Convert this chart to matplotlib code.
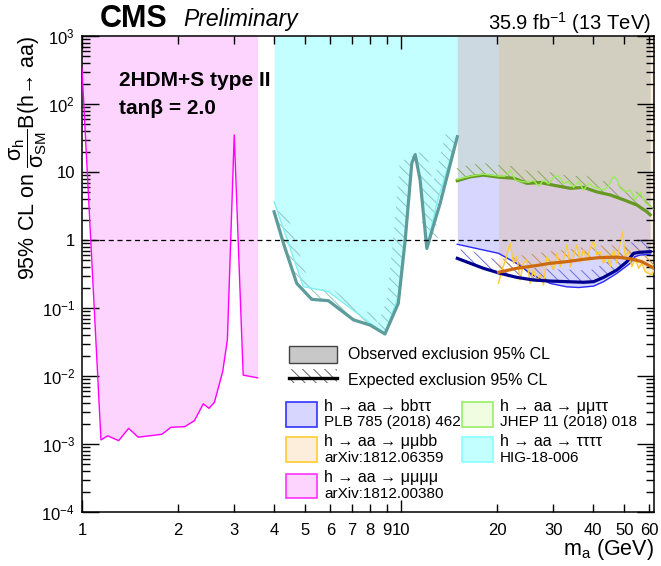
import numpy as np
import matplotlib
matplotlib.use('Agg')
import matplotlib.pyplot as plt
from matplotlib.patches import Rectangle, Polygon
from matplotlib.lines import Line2D
from matplotlib.ticker import FixedLocator, FuncFormatter, LogLocator, NullFormatter

plt.rcParams['font.family'] = ['Liberation Sans', 'DejaVu Sans']
plt.rcParams['mathtext.fontset'] = 'custom'
plt.rcParams['mathtext.rm'] = 'Liberation Sans'
plt.rcParams['mathtext.it'] = 'Liberation Sans:italic'
plt.rcParams['mathtext.bf'] = 'Liberation Sans:bold'
plt.rcParams['hatch.linewidth'] = 0.7

# h -> aa -> mumumumu (observed)
m4_x = [1.0, 1.147, 1.204, 1.303, 1.40, 1.50, 1.78, 1.90, 2.10, 2.25, 2.40, 2.50, 2.60,
        2.76, 2.855, 3.00, 3.20, 3.55]
m4_y = [335, 1.15e-3, 1.32e-3, 1.12e-3, 1.7e-3, 1.26e-3, 1.39e-3, 1.76e-3, 1.8e-3, 2.2e-3,
        3.9e-3, 3.35e-3, 4.1e-3, 1.16e-2, 3.4e-2, 35, 1.03e-2, 9.4e-3]

# h -> aa -> tautautautau
t4_obs_x = [4.0, 4.94, 5.92, 8.0, 8.9, 9.8, 10.3, 10.8, 11.07, 11.47, 12.04, 12.94, 15.0]
t4_obs_y = [3.66, 0.206, 0.174, 0.06, 0.0415, 0.15, 1.2, 14, 18.8, 7.6, 0.75, 3.5, 33]
t4_exp_x = [4.0, 4.28, 4.71, 5.25, 5.92, 7.09, 8.0, 8.9, 9.8, 10.3, 10.8, 11.07, 11.47,
            12.04, 12.6, 13.26, 15.0]
t4_exp_y = [2.6, 0.89, 0.23, 0.134, 0.128, 0.067, 0.056, 0.0415, 0.117, 1.0, 13.4, 18,
            7.6, 0.75, 1.57, 3.5, 33]

# h -> aa -> bbtautau
bb_obs_x = [15.0, 20.2, 23.05, 26.0, 29.3, 33.0, 36.0, 40.1, 43.1, 47.45, 52.2, 54.1, 56.1, 60.3]
bb_obs_y = [0.865, 0.637, 0.45, 0.3, 0.23, 0.205, 0.2, 0.21, 0.244, 0.324, 0.454, 0.57, 0.6, 0.616]
bb_exp_x = [15.0, 18.1, 20.4, 23.05, 26.0, 29.3, 33.0, 37.3, 40.1, 43.1, 47.45, 51.0, 53.5,
            56.1, 60.3]
bb_exp_y = [0.537, 0.384, 0.324, 0.282, 0.258, 0.249, 0.244, 0.239, 0.244, 0.282, 0.362,
            0.48, 0.637, 0.66, 0.673]

# h -> aa -> mumutautau
mt_obs_x = [15.0, 16.5, 18.1, 20.2, 21.2, 22.0, 22.8, 23.9, 25.1, 26.0, 27.0, 27.9, 29.0,
            30.4, 31.1, 32.3, 33.5, 34.7, 36.0, 37.3, 38.7, 40.1, 41.6, 43.1, 44.7, 46.3,
            47.5, 48.6, 50.4, 52.2, 54.1, 56.1, 58.2, 60.3]
mt_obs_y = [7.8, 8.7, 9.3, 8.7, 8.7, 10.5, 7.6, 7.2, 7.05, 7.5, 6.2, 7.6, 6.7,
            8.7, 8.7, 6.8, 7.2, 5.95, 7.2, 5.4, 6.8, 5.95, 5.75, 5.4, 6.2, 8.7,
            7.6, 5.75, 5.1, 5.4, 3.9, 5.0, 3.5, 3.1]
mt_exp_x = [15.0, 16.5, 18.1, 20.2, 22.5, 24.8, 27.3, 30.0, 33.9, 37.3, 41.0, 45.2, 49.8,
            54.8, 58.9, 60.3]
mt_exp_y = [7.45, 8.5, 9.0, 8.4, 8.1, 6.8, 7.0, 6.4, 5.75, 5.95, 5.1, 4.6, 3.9, 3.27, 2.6, 2.35]

# h -> aa -> mumubb
mb_obs_x = [20.19, 20.68, 21.18, 21.96, 22.50, 23.05, 23.60, 24.18, 24.77, 25.37, 25.99,
            26.62, 27.28, 27.94, 28.62, 29.32, 30.03, 30.76, 31.51, 32.28, 33.06, 33.87,
            34.69, 35.54, 36.40, 37.29, 38.19, 39.13, 40.08, 41.06, 42.06, 43.08, 44.13,
            45.21, 46.31, 47.44, 48.59, 49.41, 50.37, 51.60, 52.86, 54.15, 55.46, 56.81,
            58.20, 59.62, 61.07, 62.0]
mb_obs_y = [0.23, 0.362, 0.48, 0.893, 0.454, 0.568, 0.258, 0.454, 0.508, 0.23, 0.362,
            0.244, 0.306, 0.218, 0.568, 0.454, 0.362, 0.636, 0.405, 0.508, 0.844, 0.405,
            0.568, 0.844, 0.48, 0.713, 0.508, 0.754, 0.945, 0.601, 0.673, 0.454, 0.601,
            0.405, 0.713, 0.454, 0.893, 1.33, 0.568, 0.673, 0.405, 0.537, 0.383, 0.454,
            0.342, 0.323, 0.306, 0.362]
mb_exp_x = [20.2, 23.05, 26.0, 29.3, 33.0, 37.3, 41.6, 47.45, 52.2, 56.8, 62.0]
mb_exp_y = [0.335, 0.384, 0.415, 0.454, 0.48, 0.52, 0.55, 0.56, 0.53, 0.48, 0.384]

legend_top = ['Observed exclusion 95% CL', 'Expected exclusion 95% CL']
legend_l1 = ['h → aa → bbττ', 'h → aa → μμbb', 'h → aa → μμμμ', 'h → aa → μμττ',
             'h → aa → ττττ']
legend_l2 = ['PLB 785 (2018) 462', 'arXiv:1812.06359', 'arXiv:1812.00380',
             'JHEP 11 (2018) 018', 'HIG-18-006']

YTOP = 1e3

c_blue = (0.0, 0.0, 1.0, 0.16)
c_green = (0.55, 0.94, 0.0, 0.12)
c_orange = (0.97, 0.55, 0.0, 0.14)
c_mag = (0.94, 0.0, 0.96, 0.17)
c_cyan = (0.0, 1.0, 1.0, 0.23)

fig = plt.figure(figsize=(6.61, 5.66), dpi=100)
ax = fig.add_axes([0.124, 0.0954, 0.8654, 0.841])
ax.set_xscale('log')
ax.set_yscale('log')
ax.set_xlim(1, 62)
ax.set_ylim(1e-4, 1e3)


def hatch_band(x, y, color, width=12):
    # hatched strip on the excluded (upper) side of an expected curve
    pts = ax.transData.transform(np.column_stack([x, y]))
    d = np.gradient(pts, axis=0)
    n = np.column_stack([-d[:, 1], d[:, 0]])
    n /= np.hypot(n[:, 0], n[:, 1])[:, None]
    off = pts + width * n
    poly = ax.transData.inverted().transform(np.vstack([pts, off[::-1]]))
    ax.add_patch(Polygon(poly, closed=True, facecolor='none', edgecolor=color,
                         lw=0, hatch='\\\\\\', zorder=3))


# excluded regions
ax.fill_between(m4_x, m4_y, YTOP, color=c_mag, lw=0, zorder=1)
ax.fill_between(t4_obs_x, t4_obs_y, YTOP, color=c_cyan, lw=0, zorder=1)
ax.fill_between(bb_obs_x, bb_obs_y, YTOP, color=c_blue, lw=0, zorder=1)
ax.fill_between(mt_obs_x, mt_obs_y, YTOP, color=c_green, lw=0, zorder=1)
ax.fill_between(mb_obs_x, mb_obs_y, YTOP, color=c_orange, lw=0, zorder=1)

hatch_band(t4_exp_x, t4_exp_y, '#8cc4c4')
hatch_band(bb_exp_x, bb_exp_y, '#7070d8')
hatch_band(mt_exp_x, mt_exp_y, '#8aa860')
hatch_band(mb_exp_x, mb_exp_y, '#c8905a')

ax.plot(m4_x, m4_y, color='#ff00ff', lw=1.0, zorder=4)
ax.plot(t4_obs_x, t4_obs_y, color='#80f0f0', lw=1.0, zorder=4)
ax.plot(t4_exp_x, t4_exp_y, color='#5e9c9c', lw=2.3, zorder=5)
ax.plot(bb_obs_x, bb_obs_y, color='#2a2aff', lw=1.0, zorder=4)
ax.plot(bb_exp_x, bb_exp_y, color='#00008f', lw=2.3, zorder=5)
ax.plot(mt_obs_x, mt_obs_y, color='#99ee55', lw=1.0, zorder=6)
ax.plot(mt_exp_x, mt_exp_y, color='#669922', lw=2.3, zorder=5)
ax.plot(mb_obs_x, mb_obs_y, color='#ffcc33', lw=1.0, zorder=4)
ax.plot(mb_exp_x, mb_exp_y, color='#cc6a10', lw=2.3, zorder=5)

ax.axhline(1, color='k', lw=0.9, ls=(0, (4, 3)), zorder=6)

# axes styling
for s in ax.spines.values():
    s.set_linewidth(1.1)
ax.xaxis.set_major_locator(FixedLocator([1, 10]))
ax.xaxis.set_minor_locator(FixedLocator([2, 3, 4, 5, 6, 7, 8, 9, 20, 30, 40, 50, 60]))
xfmt = FuncFormatter(lambda v, p: '%g' % v)
ax.xaxis.set_major_formatter(xfmt)
ax.xaxis.set_minor_formatter(xfmt)


def yfmt(v, p):
    e = int(round(np.log10(v)))
    if e == 0:
        return '1'
    if e == 1:
        return '10'
    return '$10^{%d}$' % e


ax.yaxis.set_major_locator(FixedLocator([1e-4, 1e-3, 1e-2, 1e-1, 1, 10, 1e2, 1e3]))
ax.yaxis.set_major_formatter(FuncFormatter(yfmt))
ax.yaxis.set_minor_locator(LogLocator(base=10, subs=np.arange(2, 10)))
ax.yaxis.set_minor_formatter(NullFormatter())

ax.tick_params(which='both', direction='in', top=True, right=True, labelsize=12, width=1)
ax.tick_params(axis='y', which='major', length=12, pad=5)
ax.tick_params(axis='y', which='minor', length=6)
ax.tick_params(axis='x', which='major', length=9, pad=8)
ax.tick_params(axis='x', which='minor', length=6, pad=8)

ax.set_xlabel(r'm$_{\mathrm{a}}$ (GeV)', fontsize=15.5, loc='right')
ax.xaxis.set_label_coords(1.0, -0.052)
ax.set_ylabel('95% CL on ' + r'$\dfrac{\mathrm{σ}_{\mathrm{h}}}{\mathrm{σ}_{\mathrm{SM}}}$'
              + 'B(h→ aa)', fontsize=15.5, loc='top')
ax.yaxis.set_label_coords(-0.058, 1.0)

# header texts
fig.text(100 / 661, 1 - 27 / 566, 'CMS', fontsize=22, fontweight='bold', va='baseline')
fig.text(183 / 661, 1 - 26 / 566, 'Preliminary', fontsize=16.5, style='italic', va='baseline')
fig.text(651 / 661, 1 - 30 / 566, r'35.9 fb$^{-1}$ (13 TeV)', fontsize=14.5, ha='right',
         va='baseline')
ax.text(0.064, 0.894, '2HDM+S type II', transform=ax.transAxes, fontsize=15,
        fontweight='bold', va='baseline')
ax.text(0.064, 0.837, 'tanβ = 2.0', transform=ax.transAxes, fontsize=15,
        fontweight='bold', va='baseline')

# legend, drawn by hand in axes fraction
axf = ax.transAxes
ax.add_patch(Rectangle((0.3628, 0.314), 0.0822, 0.0337, transform=axf,
                       facecolor='#c8c8c8', edgecolor='#444444', lw=1.0, zorder=7))
ax.text(0.4645, 0.331, legend_top[0], transform=axf, fontsize=11.5, va='center', zorder=7)
ax.add_patch(Rectangle((0.3628, 0.271), 0.0822, 0.029, transform=axf, facecolor='none',
                       edgecolor='#666666', lw=0, hatch='\\\\\\', zorder=7))
ax.add_line(Line2D([0.3628, 0.445], [0.2815, 0.2815], transform=axf, color='k', lw=2.4,
                   zorder=8))
ax.text(0.4645, 0.276, legend_top[1], transform=axf, fontsize=11.5, va='center', zorder=7)

leg_fc = [c_blue, c_orange, c_mag, c_green, c_cyan]
leg_ec = ['#3333ff', '#ffcc33', '#ff33ff', '#99ee66', '#88ffff']
leg_col = [0, 0, 0, 1, 1]
leg_row = [0, 1, 2, 0, 1]
col_x = [0.357, 0.6642]
row_top = [0.2313, 0.1567, 0.0807]
for i in range(5):
    x0 = col_x[leg_col[i]]
    yt = row_top[leg_row[i]]
    ax.add_patch(Rectangle((x0, yt - 0.052), 0.0544, 0.052, transform=axf,
                           facecolor=leg_fc[i], edgecolor=leg_ec[i], lw=1.2, zorder=7))
    ax.text(x0 + 0.066, yt - 0.009, legend_l1[i], transform=axf, fontsize=11.5, va='center',
            zorder=7)
    ax.text(x0 + 0.066, yt - 0.043, legend_l2[i], transform=axf, fontsize=11, va='center',
            zorder=7)

fig.savefig('out.png', dpi=100)
